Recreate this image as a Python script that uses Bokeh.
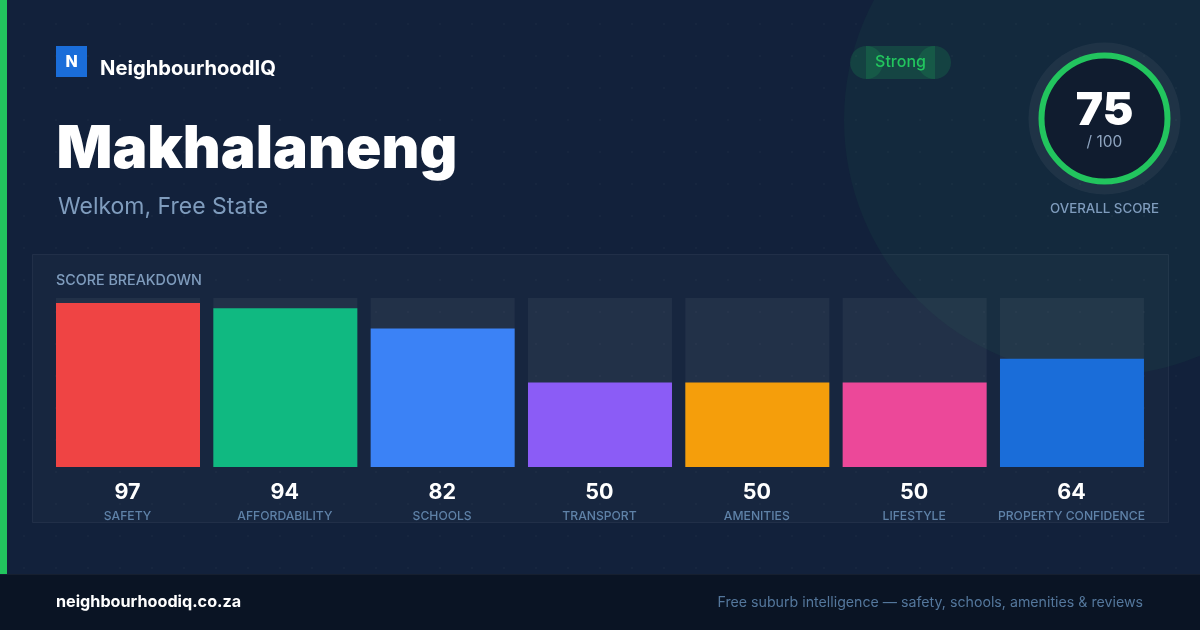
import numpy as np
from bokeh.core.properties import value
from bokeh.embed import file_html
from bokeh.models import Range1d
from bokeh.plotting import figure
from bokeh.resources import INLINE

categories = ["SAFETY", "AFFORDABILITY", "SCHOOLS", "TRANSPORT", "AMENITIES", "LIFESTYLE", "PROPERTY CONFIDENCE"]
scores = [97, 94, 82, 50, 50, 50, 64]
colors = ["#ef4444", "#10b981", "#3b82f6", "#8b5cf6", "#f59e0b", "#ec4899", "#1a6dd9"]
overall = 75

W, H = 1200, 630

# main ranges are page pixels, the bars get their own ranges
# svg output sits half a pixel in, so the figure starts 1px off the page and the ranges take up the rest
p = figure(width=W + 1, height=H + 1, x_range=Range1d(-0.5, W + 0.5), y_range=Range1d(H + 0.5, -0.5),
           output_backend="svg", toolbar_location=None, min_border=0,
           background_fill_color="#12213b", border_fill_color="#12213b", outline_line_color=None)
p.axis.visible = False
p.grid.visible = False
p.styles = {"position": "fixed", "left": "-1px", "top": "-1px"}

# index 0 sits at 128px, 157.33px apart; score 0 at 467px, 1.69px per point
p.extra_x_ranges["cat"] = Range1d((-0.5 - 128) / 157.33, (W + 0.5 - 128) / 157.33)
p.extra_y_ranges["score"] = Range1d((467 - H - 0.5) / 1.69, (467 + 0.5) / 1.69)


def txt(x, y, s, size, color, style="normal", align="left", font="Inter", **kw):
    p.text([x], [y], text=[s], text_font=value(font), text_font_size=size, text_color=color,
           text_font_style=style, text_align=align, text_baseline="middle", **kw)


# background
p.circle([1100], [120], radius=256, fill_color="#22c55e", fill_alpha=0.05, line_color=None)
gx, gy = np.meshgrid(np.arange(24, W, 32), np.arange(24, 574, 32))
p.scatter(gx.ravel(), gy.ravel(), size=2, fill_color="white", fill_alpha=0.035, line_color=None)
p.quad(left=0, right=7, top=0, bottom=574, fill_color="#22c55e", line_color=None)
p.quad(left=0, right=W + 1, top=574, bottom=H + 1, fill_color="#0a1424", line_color=None)
p.segment(0, 574.5, W + 1, 574.5, line_color="#ffffff", line_alpha=0.05, line_width=1)

# header
p.quad(left=56, right=87, top=46, bottom=77, fill_color="#1a6dd9", line_color=None)
txt(71.5, 61, "N", "16px", "#ffffff", "bold", "center", font="Inter ExtraBold")
txt(100, 67.3, "NeighbourhoodIQ", "20.2px", "#ffffff", "bold")
txt(56.5, 146, "Makhalaneng", "58.5px", "#ffffff", "bold", font="Inter Black")
txt(58, 206, "Welkom, Free State", "23px", "#7f9cbd")

# pill
p.quad(left=866, right=935, top=46, bottom=79, fill_color="#22c55e", fill_alpha=0.18, line_color=None)
p.circle([866.5, 934.5], [62.5, 62.5], radius=16.5, fill_color="#22c55e", fill_alpha=0.16, line_color=None)
txt(900.5, 60.8, "Strong", "16px", "#22c55e", "normal", "center", font="Inter Medium")

# gauge
p.circle([1104.5], [118.5], radius=76, fill_color="#ffffff", fill_alpha=0.05, line_color=None)
p.circle([1104.5], [118.5], radius=63, fill_color="#101c2f", line_color="#22c55e", line_width=6)
txt(1104.5, 108, str(overall), "46px", "#ffffff", "bold", "center", font="Inter Black")
txt(1104.5, 141, "/ 100", "15.5px", "#8fa5c0", "normal", "center")
txt(1104.5, 207.6, "OVERALL SCORE", "13.3px", "#7f9cbd", "normal", "center", font="Inter Medium")

# panel
p.quad(left=32.5, right=1168.5, top=254.5, bottom=522.5, fill_color="#ffffff", fill_alpha=0.025,
       line_color="#ffffff", line_alpha=0.06)
txt(56, 279.4, "SCORE BREAKDOWN", "14.3px", "#7f9cbd", font="Inter Medium")

# bars
idx = list(range(len(categories)))
p.vbar(x=idx, width=144 / 157.33, bottom=0, top=100, fill_color="#ffffff", fill_alpha=0.05, line_color=None,
       x_range_name="cat", y_range_name="score")
p.vbar(x=idx, width=144 / 157.33, bottom=0, top=scores, fill_color=colors, line_color=None,
       x_range_name="cat", y_range_name="score")
p.text(idx, [491.4] * 7, text=[str(s) for s in scores], x_range_name="cat", text_font=value("Inter"),
       text_font_size="21.5px", text_font_style="bold", text_color="#ffffff", text_align="center",
       text_baseline="middle", x_offset=-0.5)
p.text(idx, [515.4] * 7, text=categories, x_range_name="cat", text_font=value("Inter Medium"),
       text_font_size="12.15px", text_color="#5f82a8", text_align="center", text_baseline="middle", x_offset=-0.5)

# footer
txt(56, 601.4, "neighbourhoodiq.co.za", "16.2px", "#ffffff", "bold")
txt(1143, 601.4, "Free suburb intelligence — safety, schools, amenities & reviews", "14.2px", "#54779c", "normal", "right")

open("out.html", "w").write(file_html(p, INLINE))
